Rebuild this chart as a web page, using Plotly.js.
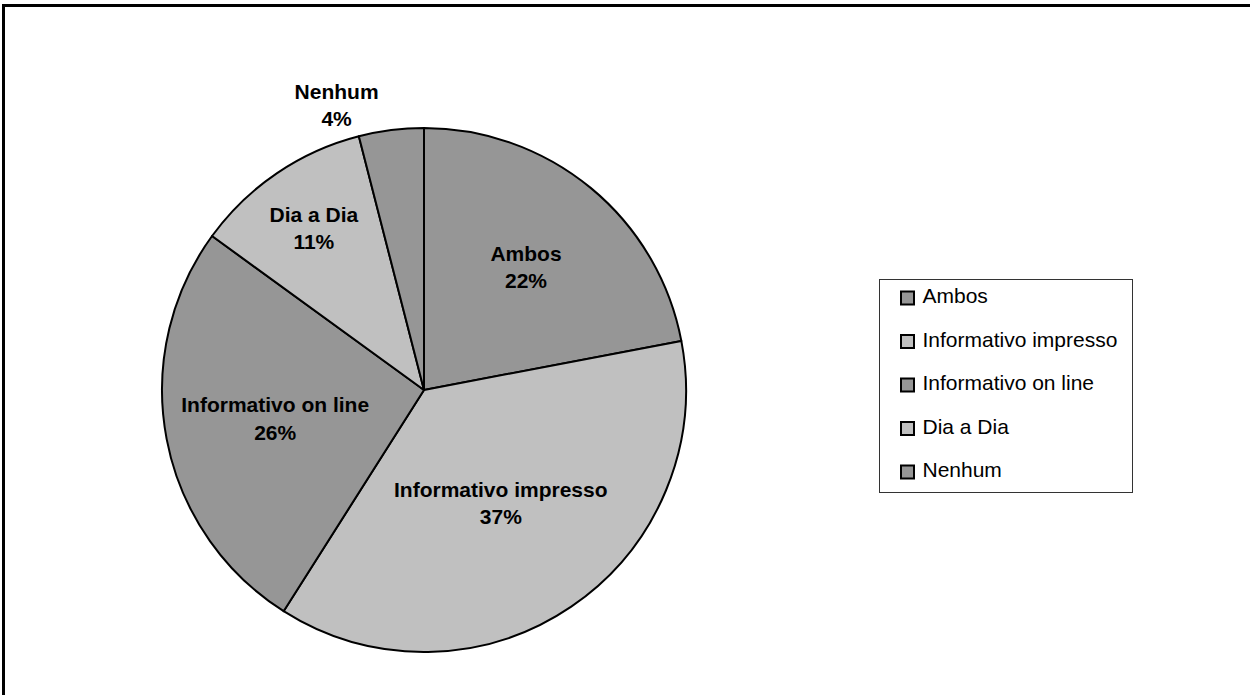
<!DOCTYPE html>
<html><head><meta charset="utf-8">
<script src="https://cdn.plot.ly/plotly-3.0.1.min.js"></script>
<style>html,body{margin:0;padding:0;background:#fff;}#chart{width:1250px;height:695px;}</style>
</head><body><div id="chart"></div>
<script>
const categories = ["Ambos", "Informativo impresso", "Informativo on line", "Dia a Dia", "Nenhum"];
const values = [22, 37, 26, 11, 4];
const sliceColors = ["#969696", "#c0c0c0", "#969696", "#c0c0c0", "#969696"];

const FONT = "Liberation Sans, Arial, sans-serif";

const pie = {
  type: "pie",
  labels: categories,
  values: values,
  sort: false,
  direction: "clockwise",
  rotation: 0,
  marker: { colors: sliceColors, line: { color: "#000", width: 2 } },
  texttemplate: "<b>%{label}</b><br><b>%{percent:.0%}</b>",
  textposition: ["inside", "inside", "inside", "inside", "outside"],
  insidetextorientation: "horizontal",
  textfont: { family: FONT, size: 21, color: "#000" },
  domain: { x: [0.1296, 0.5488], y: [0.0619, 0.8158] },
  showlegend: false,
  hoverinfo: "label+percent"
};

// legend drawn as a scatter in its own small subplot
const legendIdx = categories.map((c, i) => i);
const legendTrace = {
  type: "scatter",
  mode: "markers+text",
  x: categories.map(() => 0),
  y: legendIdx,
  text: categories.map(c => "\u00a0" + c),
  textposition: "middle right",
  textfont: { family: FONT, size: 21, color: "#000" },
  marker: { symbol: "square", size: 13, color: sliceColors, line: { color: "#000", width: 2 } },
  xaxis: "x2", yaxis: "y2",
  showlegend: false,
  hoverinfo: "text"
};

const layout = {
  width: 1250, height: 695,
  margin: { l: 0, r: 0, t: 0, b: 0 },
  paper_bgcolor: "#fff", plot_bgcolor: "#fff",
  showlegend: false,
  xaxis2: { domain: [880/1250, 1132/1250], range: [-27.5, 224.5], showgrid: false, zeroline: false, anchor: "y2",
            showticklabels: false, ticks: "", showline: true, mirror: true, linecolor: "#333", linewidth: 1, fixedrange: true },
  yaxis2: { domain: [(695-492)/695, (695-280)/695], range: [4.46, -0.414], showgrid: false, zeroline: false,
            showticklabels: false, ticks: "", showline: true, mirror: true, linecolor: "#333", linewidth: 1, fixedrange: true, anchor: "x2" },
  shapes: [
    { type: "line", xref: "paper", yref: "paper", x0: 3.5/1250, x1: 1, y0: 1 - 5.5/695, y1: 1 - 5.5/695, line: { color: "#000", width: 3 } },
    { type: "line", xref: "paper", yref: "paper", x0: 3.5/1250, x1: 3.5/1250, y0: 0, y1: 1 - 4/695, line: { color: "#000", width: 3 } }
  ]
};

Plotly.newPlot("chart", [pie, legendTrace], layout, { displayModeBar: false, staticPlot: true });
</script>
</body></html>
